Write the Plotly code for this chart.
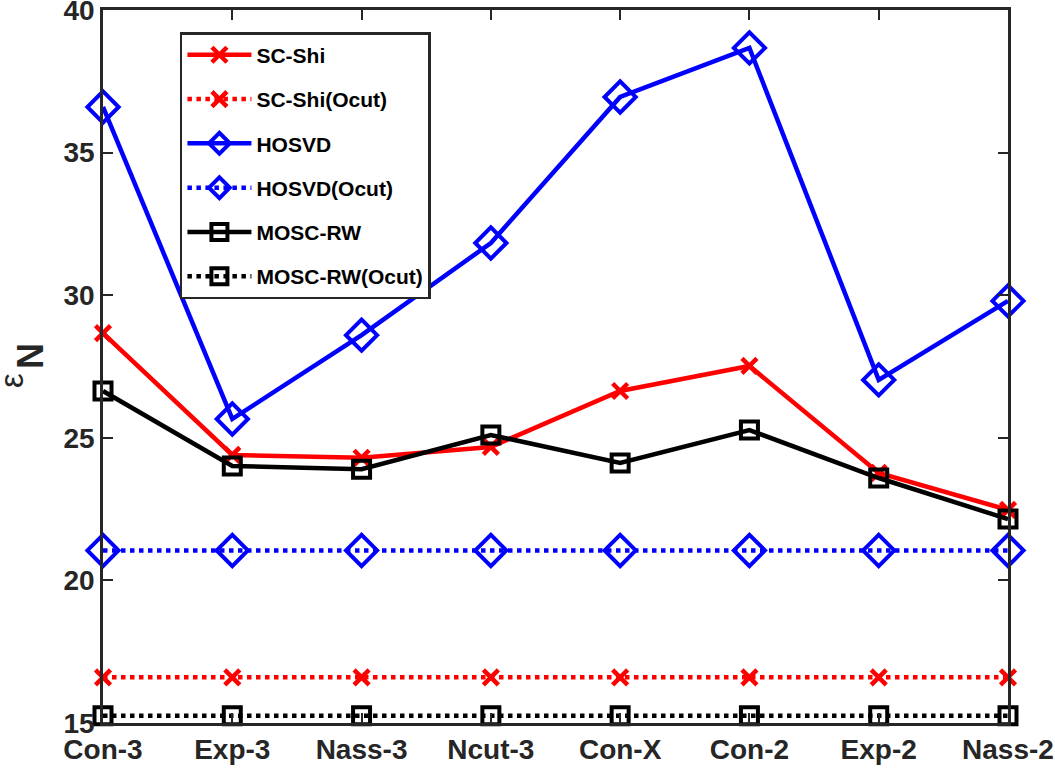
import plotly.graph_objects as go

categories = ["Con-3", "Exp-3", "Nass-3", "Ncut-3", "Con-X", "Con-2", "Exp-2", "Nass-2"]
sc_shi = [28.67, 24.4, 24.3, 24.68, 26.64, 27.52, 23.77, 22.47]
sc_shi_ocut = [16.6] * 8
hosvd = [36.6, 25.66, 28.6, 31.83, 36.95, 38.67, 27.03, 29.8]
hosvd_ocut = [21.05] * 8
mosc_rw = [26.64, 24.01, 23.9, 25.1, 24.12, 25.27, 23.59, 22.15]
mosc_rw_ocut = [15.25] * 8
y_ticks = [15, 20, 25, 30, 35, 40]

FONT = "Liberation Sans, Arial, sans-serif"
DARK = "#262626"

series = [
    ("SC-Shi", sc_shi, "#ff0000", "solid", "x-thin-open", 15),
    ("SC-Shi(Ocut)", sc_shi_ocut, "#ff0000", "dot", "x-thin-open", 15),
    ("HOSVD", hosvd, "#0000ff", "solid", "diamond-open", 24),
    ("HOSVD(Ocut)", hosvd_ocut, "#0000ff", "dot", "diamond-open", 24),
    ("MOSC-RW", mosc_rw, "#000000", "solid", "square-open", 17),
    ("MOSC-RW(Ocut)", mosc_rw_ocut, "#000000", "dot", "square-open", 17),
]

fig = go.Figure()
for i, (name, vals, color, dash, sym, size) in enumerate(series):
    fig.add_trace(go.Scatter(
        x=categories, y=vals, name=name, mode="lines+markers",
        legendgroup=f"g{i}", cliponaxis=False,
        line=dict(color=color, width=4.5, dash=dash),
        marker=dict(symbol=sym, size=size, color=color,
                    line=dict(color=color, width=4.5 if sym == "x-thin-open" else 4)),
    ))

fig.update_layout(
    width=1055, height=773,
    margin=dict(l=103, r=47, t=10, b=50),
    paper_bgcolor="white", plot_bgcolor="white",
    font=dict(family=FONT, color=DARK, size=22),
    showlegend=True,
    legend=dict(
        x=0.085, y=0.969, xanchor="left", yanchor="top",
        bgcolor="white", bordercolor=DARK, borderwidth=2.5,
        font=dict(family=FONT, size=21, color="#000000", weight="bold"),
        tracegroupgap=14, traceorder="grouped", itemwidth=64,
    ),
    xaxis=dict(
        type="category", range=[0, 7], showgrid=False, zeroline=False,
        showline=True, linecolor=DARK, linewidth=2.5, mirror="ticks",
        ticks="inside", ticklen=10, tickwidth=2, tickcolor=DARK,
        automargin=False, ticklabeloverflow="allow",
        tickfont=dict(family=FONT, size=28, color=DARK, weight="bold"),
    ),
    yaxis=dict(
        range=[15, 40], tickvals=y_ticks, showgrid=False, zeroline=False,
        showline=True, linecolor=DARK, linewidth=2.5, mirror="ticks",
        ticks="inside", ticklen=10, tickwidth=2, tickcolor=DARK,
        automargin=False, ticklabeloverflow="allow",
        tickfont=dict(family=FONT, size=28, color=DARK, weight="bold"),
    ),
    annotations=[
        dict(text="ε", xref="paper", yref="paper",
             x=(12 - 103) / 905, y=1 - (381 - 10) / 713,
             xanchor="center", yanchor="middle", showarrow=False, textangle=-90,
             font=dict(family=FONT, size=33, color=DARK)),
        dict(text="<b>N</b>", xref="paper", yref="paper",
             x=(30 - 103) / 905, y=1 - (356 - 10) / 713,
             xanchor="center", yanchor="middle", showarrow=False, textangle=-90,
             font=dict(family=FONT, size=36, color=DARK)),
    ],
)

fig.write_html("out.html")
